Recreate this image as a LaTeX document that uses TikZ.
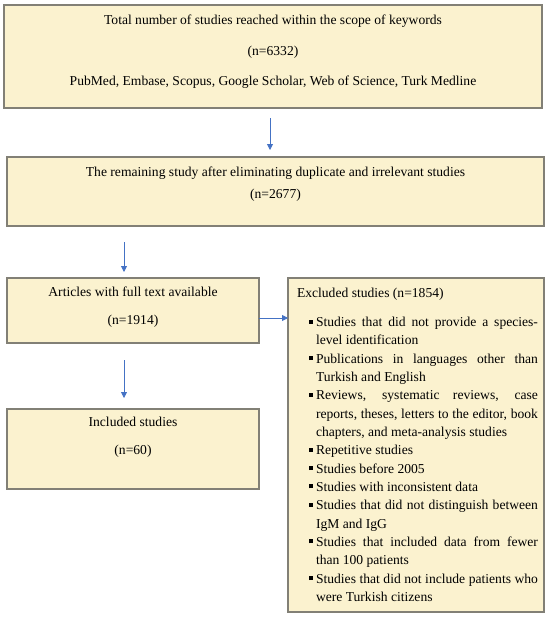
\documentclass[tikz,border=0pt]{standalone}
\usepackage{fontspec}
\setmainfont{Liberation Serif}
\usetikzlibrary{arrows.meta}
\definecolor{boxfill}{RGB}{251,242,207}
\definecolor{boxline}{RGB}{130,128,118}
\definecolor{arrowblue}{RGB}{68,114,196}
\newcommand\fsz{\fontsize{13.6}{18.33}\selectfont}
\newcommand\itm[1]{\par\noindent\llap{\rule[3pt]{4pt}{4pt}\hspace{3pt}}#1}
\begin{document}
\begin{tikzpicture}[x=1pt,y=-1pt,
  flowbox/.style={draw=boxline, line width=1.3pt, fill=boxfill, inner sep=0pt, outer sep=0pt, anchor=north west},
  flowarrow/.style={draw=arrowblue, line width=0.8pt, -{Triangle[width=6pt,length=6pt]}}]
\useasboundingbox (0,0) rectangle (550,619);
\node[flowbox] (b1) at (4,5) {\parbox[c][103pt][t]{538pt}{\fsz\centering
  \rule{0pt}{19.5pt}Total number of studies reached within the scope of keywords\\[12.67pt]
  (n=6332)\\[11.67pt]
  PubMed, Embase, Scopus, Google Scholar, Web of Science, Turk Medline\par}};
\node[flowbox] (b2) at (7,157) {\parbox[c][69pt][t]{537pt}{\fsz\centering
  \rule{0pt}{19.5pt}The remaining study after eliminating duplicate and irrelevant studies\\[3.2pt]
  (n=2677)\par}};
\node[flowbox] (b3) at (7,278) {\parbox[c][65pt][t]{252pt}{\fsz\centering
  \rule{0pt}{18.5pt}Articles with full text available\\[9.67pt]
  (n=1914)\par}};
\node[flowbox] (b4) at (7,409) {\parbox[c][80pt][t]{252pt}{\fsz\centering
  \rule{0pt}{17.5pt}Included studies\\[9.67pt]
  (n=60)\par}};
\node[flowbox] (ex) at (288,278) {\parbox[c][334pt][t]{256pt}{\fsz
  \hyphenpenalty=10000 \hbadness=10000
  {\leftskip=9pt \noindent\rule{0pt}{19.5pt}Excluded studies (n=1854)\par}
  \vspace{10.67pt}
  \leftskip=28pt \rightskip=6pt
  \itm{Studies that did not provide a species-\linebreak level identification}
  \itm{Publications in languages other than\linebreak Turkish and English}
  \itm{Reviews, systematic reviews, case\linebreak reports, theses, letters to the editor, book\linebreak chapters, and meta-analysis studies}
  \itm{Repetitive studies}
  \itm{Studies before 2005}
  \itm{Studies with inconsistent data}
  \itm{Studies that did not distinguish between\linebreak IgM and IgG}
  \itm{Studies that included data from fewer\linebreak than 100 patients}
  \itm{Studies that did not include patients who\linebreak were Turkish citizens}\par}};
\draw[flowarrow, shorten <=10pt, shorten >=7pt] ([xshift=-3pt]b1.south) -- ([xshift=-3pt]b1.south |- b2.north);
\draw[flowarrow, shorten <=16pt, shorten >=6pt] ([xshift=-9pt]b2.south -| b3.north) -- ([xshift=-9pt]b3.north);
\draw[flowarrow, shorten <=17pt, shorten >=11pt] ([xshift=-9pt]b3.south) -- ([xshift=-9pt]b4.north);
\draw[flowarrow] ([yshift=-7.5pt]b3.east) -- ([yshift=-7.5pt]b3.east -| ex.west);
\end{tikzpicture}
\end{document}
